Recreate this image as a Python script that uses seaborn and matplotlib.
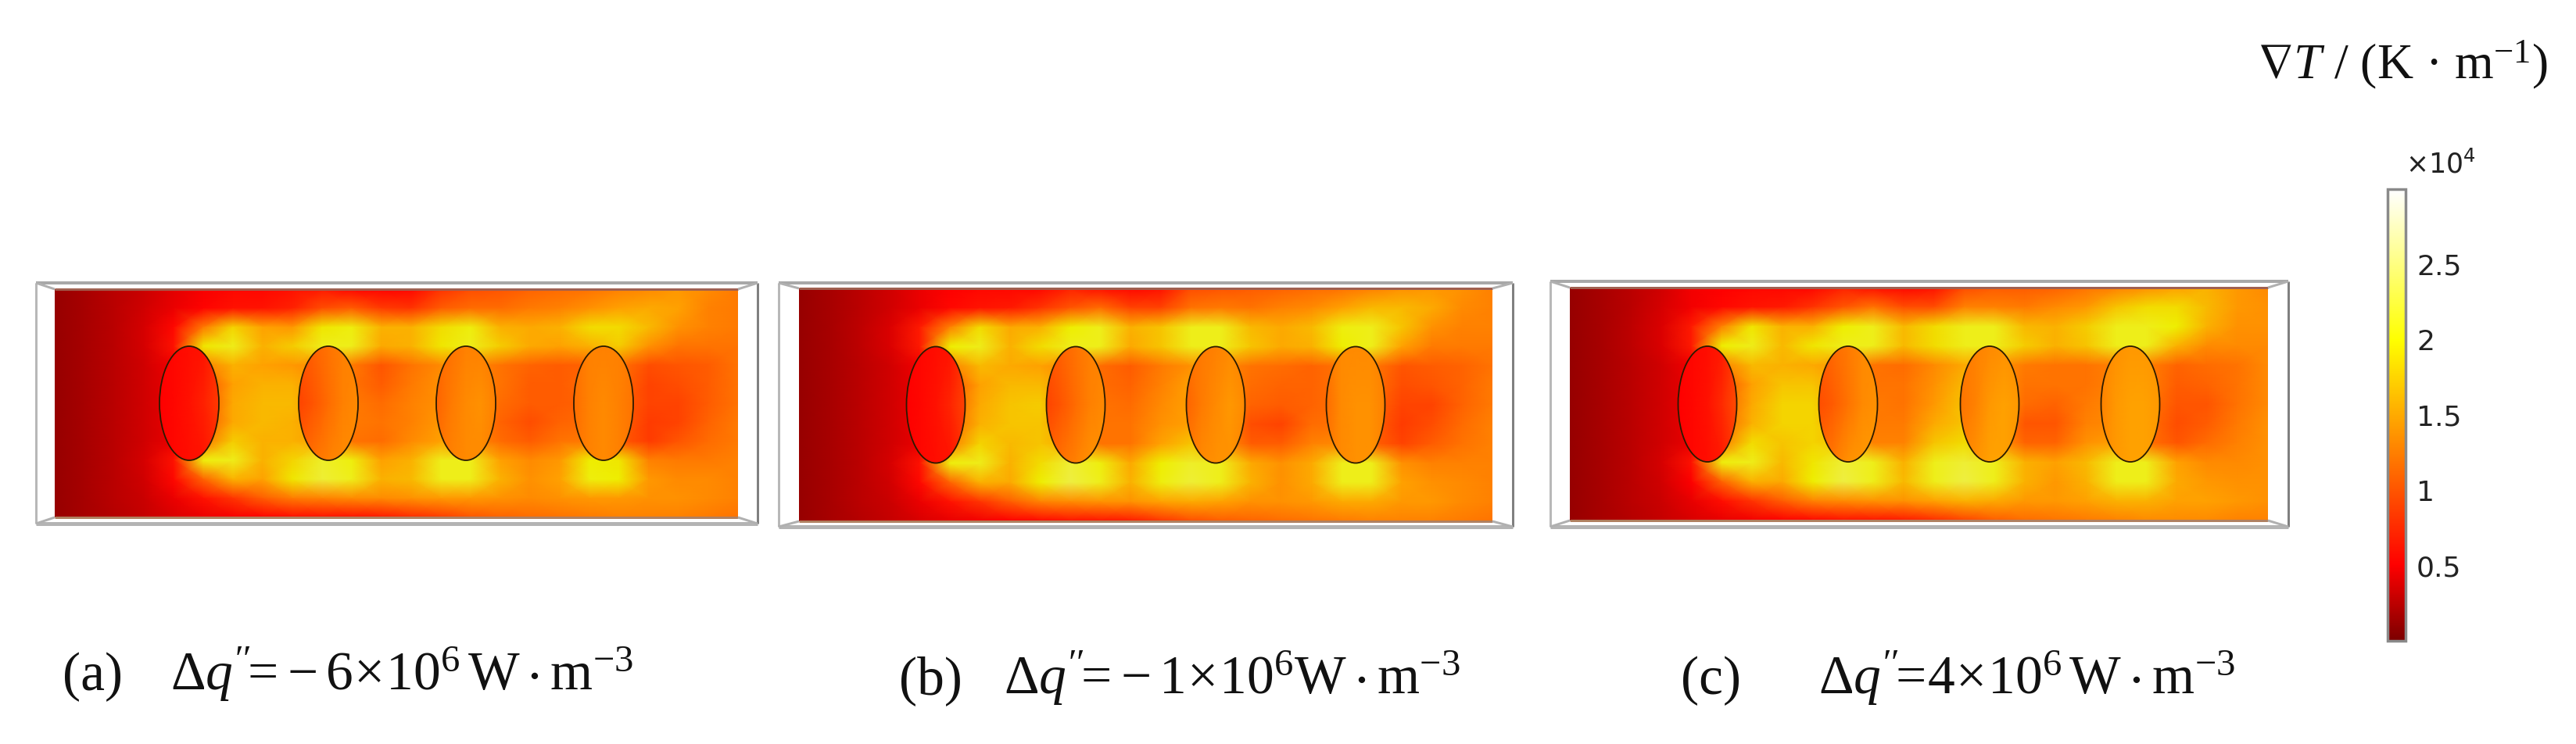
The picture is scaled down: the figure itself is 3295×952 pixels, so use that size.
import numpy as np
import pandas as pd
import matplotlib
matplotlib.use("Agg")
import matplotlib.pyplot as plt
import seaborn as sns
from matplotlib.colors import LinearSegmentedColormap
from matplotlib.cm import ScalarMappable
from matplotlib.colors import Normalize
from matplotlib.lines import Line2D
from matplotlib.patches import Ellipse

# ---------- values (x 10^4 K/m) ----------
field_a = [
 [.05,.12,.20,.28,.38,.48,.55,.55,.60,.65,.55,.52,.55,.80,.95,1.0,1.1,1.15,1.2,1.3,1.35,1.45,1.35,1.25],
 [.05,.12,.20,.30,.42,.52,.60,.62,.70,.95,1.05,.85,.80,1.05,1.15,1.15,1.25,1.3,1.4,1.5,1.55,1.5,1.3,1.25],
 [.05,.12,.20,.32,.55,1.25,1.8,1.5,1.45,1.9,2.0,1.6,1.6,1.85,2.0,1.6,1.55,1.6,1.85,1.85,1.65,1.4,1.3,1.25],
 [.05,.12,.20,.32,.60,1.9,2.05,1.6,1.75,2.05,2.05,1.55,1.6,1.9,2.05,1.75,1.55,1.5,1.6,1.75,1.4,1.2,1.2,1.2],
 [.05,.12,.20,.30,.45,1.3,1.6,1.5,1.45,1.35,1.25,1.0,1.2,1.35,1.35,1.2,1.1,1.05,1.1,1.2,.95,1.0,1.05,1.2],
 [.05,.12,.20,.30,.42,.95,1.5,1.6,1.6,1.35,1.2,1.05,1.25,1.4,1.35,1.2,1.05,1.05,1.15,1.15,.90,.95,1.05,1.2],
 [.05,.12,.20,.30,.42,.95,1.55,1.65,1.65,1.35,1.25,1.15,1.3,1.4,1.35,1.15,1.05,1.05,1.1,1.1,.90,.90,1.05,1.2],
 [.05,.12,.20,.30,.42,1.0,1.55,1.65,1.6,1.4,1.25,1.2,1.3,1.45,1.35,1.1,.95,1.1,1.15,1.1,.85,.90,1.1,1.25],
 [.05,.12,.20,.30,.42,1.2,1.75,1.6,1.6,1.5,1.2,1.15,1.35,1.5,1.35,1.15,1.05,1.2,1.25,1.05,.85,1.0,1.15,1.25],
 [.05,.12,.20,.32,.60,2.0,2.05,1.6,1.8,2.1,2.0,1.5,1.6,2.05,2.05,1.5,1.35,1.45,1.95,1.9,1.3,1.25,1.25,1.3],
 [.05,.12,.20,.30,.55,1.1,1.6,1.5,1.9,2.15,2.05,1.6,1.65,2.05,2.05,1.6,1.4,1.5,2.0,1.95,1.45,1.35,1.35,1.3],
 [.05,.12,.20,.28,.42,.60,.80,1.05,1.25,1.3,1.35,1.35,1.4,1.45,1.45,1.4,1.35,1.4,1.45,1.45,1.4,1.4,1.35,1.3],
 [.05,.12,.18,.25,.35,.42,.48,.52,.58,.60,.60,.65,.75,.85,1.0,1.1,1.15,1.2,1.25,1.3,1.3,1.3,1.25,1.2],
]
field_b = [
 [.05,.12,.20,.30,.42,.50,.55,.55,.55,.70,.60,.55,.60,.95,1.0,1.05,1.1,1.15,1.2,1.3,1.4,1.45,1.4,1.3],
 [.05,.12,.20,.30,.42,.55,.62,.65,.80,1.0,1.15,.90,.90,1.2,1.25,1.2,1.3,1.35,1.5,1.65,1.65,1.55,1.35,1.3],
 [.05,.12,.22,.35,.65,1.3,1.85,1.55,1.6,1.95,2.05,1.6,1.7,2.05,2.05,1.65,1.55,1.65,2.0,2.05,1.7,1.4,1.3,1.3],
 [.05,.12,.22,.35,.65,1.95,2.05,1.6,1.85,2.05,2.05,1.55,1.7,2.05,2.05,1.7,1.55,1.6,1.95,2.05,1.5,1.25,1.25,1.25],
 [.05,.12,.20,.30,.45,1.3,1.65,1.55,1.5,1.35,1.15,1.05,1.25,1.4,1.35,1.2,1.15,1.1,1.2,1.25,1.0,1.05,1.1,1.2],
 [.05,.12,.20,.30,.42,.95,1.5,1.65,1.65,1.35,1.15,1.1,1.3,1.5,1.35,1.15,1.1,1.1,1.2,1.2,.95,1.0,1.1,1.25],
 [.05,.12,.20,.30,.42,1.05,1.55,1.7,1.75,1.4,1.2,1.15,1.35,1.5,1.4,1.1,1.05,1.1,1.2,1.15,.90,.90,1.1,1.25],
 [.05,.12,.20,.30,.42,1.1,1.6,1.7,1.7,1.4,1.2,1.2,1.4,1.5,1.35,.95,.90,1.15,1.2,1.1,.85,.95,1.15,1.3],
 [.05,.12,.20,.30,.42,1.25,1.8,1.65,1.7,1.55,1.2,1.2,1.5,1.7,1.45,1.05,1.05,1.3,1.35,1.1,.90,1.05,1.2,1.3],
 [.05,.12,.20,.32,.60,2.0,2.05,1.6,1.85,2.15,2.0,1.55,1.95,2.1,2.05,1.55,1.4,1.55,2.05,2.05,1.4,1.3,1.3,1.3],
 [.05,.12,.20,.30,.55,1.1,1.6,1.55,1.95,2.2,2.05,1.6,2.0,2.15,2.05,1.6,1.4,1.55,2.05,2.05,1.5,1.4,1.35,1.3],
 [.05,.12,.20,.28,.42,.60,.80,1.05,1.3,1.35,1.4,1.4,1.5,1.55,1.5,1.4,1.4,1.45,1.55,1.55,1.45,1.45,1.35,1.3],
 [.05,.12,.18,.25,.33,.40,.45,.50,.55,.60,.62,.65,.80,.95,1.05,1.1,1.15,1.2,1.25,1.3,1.3,1.3,1.25,1.2],
]
field_c = [
 [.05,.12,.20,.30,.45,.50,.55,.55,.55,.70,.60,.55,.60,.95,1.05,1.05,1.1,1.2,1.3,1.4,1.5,1.6,1.45,1.35],
 [.05,.12,.20,.32,.45,.55,.62,.65,.80,1.0,1.2,.95,.95,1.3,1.3,1.25,1.35,1.45,1.7,1.85,1.85,1.65,1.45,1.4],
 [.05,.12,.22,.35,.65,1.3,1.9,1.6,1.6,1.95,2.05,1.65,1.85,2.05,2.05,1.65,1.6,1.75,2.05,2.05,1.95,1.6,1.4,1.4],
 [.05,.12,.22,.35,.65,1.95,2.05,1.65,1.9,2.05,2.05,1.65,1.85,2.05,2.05,1.75,1.6,1.7,2.05,2.05,1.6,1.35,1.35,1.35],
 [.05,.12,.20,.30,.45,1.3,1.65,1.6,1.55,1.45,1.2,1.15,1.35,1.55,1.45,1.25,1.2,1.2,1.3,1.3,1.1,1.15,1.2,1.35],
 [.05,.12,.20,.30,.42,.95,1.5,1.7,1.7,1.45,1.2,1.2,1.4,1.65,1.45,1.2,1.2,1.2,1.3,1.3,1.05,1.1,1.2,1.35],
 [.05,.12,.20,.30,.42,1.05,1.55,1.8,1.8,1.5,1.25,1.2,1.45,1.7,1.5,1.15,1.1,1.25,1.35,1.25,1.0,1.0,1.2,1.35],
 [.05,.12,.20,.30,.42,1.1,1.6,1.8,1.8,1.5,1.25,1.25,1.55,1.7,1.45,1.0,1.0,1.3,1.35,1.2,.95,1.05,1.25,1.4],
 [.05,.12,.20,.30,.42,1.25,1.85,1.7,1.8,1.7,1.3,1.3,1.7,1.85,1.5,1.1,1.1,1.4,1.5,1.2,1.0,1.15,1.3,1.4],
 [.05,.12,.20,.32,.60,2.0,2.05,1.65,1.9,2.15,2.05,1.6,2.05,2.15,2.05,1.6,1.5,1.65,2.05,2.05,1.5,1.35,1.35,1.4],
 [.05,.12,.20,.30,.50,1.1,1.6,1.55,1.95,2.2,2.05,1.65,2.05,2.2,2.05,1.6,1.45,1.6,2.05,2.05,1.55,1.45,1.4,1.4],
 [.05,.12,.20,.28,.40,.58,.80,1.05,1.3,1.35,1.4,1.4,1.5,1.6,1.55,1.45,1.45,1.5,1.6,1.6,1.5,1.5,1.45,1.4],
 [.05,.12,.18,.25,.33,.40,.45,.50,.55,.60,.62,.65,.75,.90,1.05,1.15,1.2,1.25,1.3,1.35,1.35,1.35,1.3,1.3],
]
# interiors of the four holes of each panel: top, middle, bottom row, left to right
holes_a = [
 [[.50,.55,.58,.62,.80],[.50,.55,.60,.70,.85],[.50,.55,.58,.62,.75]],
 [[1.0,1.1,1.2,1.3,1.3],[.90,1.0,1.15,1.3,1.35],[1.1,1.2,1.3,1.35,1.35]],
 [[1.15,1.2,1.3,1.3,1.25],[1.1,1.25,1.35,1.4,1.3],[1.2,1.3,1.35,1.35,1.25]],
 [[1.2,1.3,1.3,1.3,1.25],[1.15,1.3,1.35,1.3,1.2],[1.2,1.3,1.35,1.3,1.2]],
]
holes_b = [
 [[.50,.55,.58,.62,.85],[.50,.55,.60,.72,.90],[.50,.55,.58,.62,.80]],
 [[1.0,1.1,1.2,1.3,1.3],[.90,1.0,1.15,1.3,1.35],[1.1,1.2,1.3,1.4,1.4]],
 [[1.2,1.25,1.3,1.35,1.3],[1.1,1.25,1.35,1.45,1.35],[1.25,1.35,1.4,1.4,1.3]],
 [[1.25,1.35,1.35,1.35,1.3],[1.15,1.35,1.4,1.4,1.3],[1.25,1.35,1.4,1.4,1.3]],
]
holes_c = [
 [[.50,.55,.58,.65,.90],[.50,.55,.60,.75,.95],[.50,.55,.58,.65,.85]],
 [[1.05,1.15,1.25,1.35,1.35],[.95,1.05,1.2,1.35,1.4],[1.15,1.25,1.4,1.45,1.45]],
 [[1.25,1.3,1.35,1.4,1.35],[1.2,1.3,1.45,1.5,1.45],[1.3,1.4,1.5,1.5,1.4]],
 [[1.35,1.4,1.45,1.45,1.4],[1.3,1.45,1.5,1.5,1.45],[1.35,1.45,1.5,1.5,1.45]],
]
panel_letters = ["(a)", "(b)", "(c)"]
panel_formulas = [
 r"$\mathrm{\Delta}\mathit{q}^{\prime\prime}\!\!=\!-6\!\times\!10^{6}\,\mathrm{W}\cdot\mathrm{m}^{-3}$",
 r"$\mathrm{\Delta}\mathit{q}^{\prime\prime}\!\!=\!-1\!\times\!10^{6}\mathrm{W}\cdot\mathrm{m}^{-3}$",
 r"$\mathrm{\Delta}\mathit{q}^{\prime\prime}\!\!=\!4\!\times\!10^{6}\,\mathrm{W}\cdot\mathrm{m}^{-3}$",
]
bar_ticks = [0.5, 1, 1.5, 2, 2.5]
bar_labels = ["0.5", "1", "1.5", "2", "2.5"]
bar_range = (0, 3)

# ---------- layout, in pixels of the 3295x952 figure ----------
W, H = 3295, 952
OUTER = [(46, 362, 969, 670), (996, 362, 1935, 674), (1983, 360, 2927, 674)]
INNER = [(70, 370, 944, 662), (1022, 369, 1909, 667), (2008, 368, 2901, 666)]
HOLE_X = [(242, 420, 596, 772), (1197, 1376, 1555, 1734), (2184, 2364, 2545, 2725)]
HOLE_Y = [516, 518, 517]
HOLE_HALF = [(38, 73), (37.5, 74.5), (37.5, 74)]
LETTER_POS = [(80, 883), (1150, 888), (2150, 888)]
FORMULA_POS = [(218, 883), (1284, 888), (2326, 888)]

sns.set_theme(style="white")
plt.rcParams["font.family"] = ["Liberation Serif", "DejaVu Sans"]
plt.rcParams["mathtext.fontset"] = "custom"
plt.rcParams["mathtext.rm"] = "Liberation Serif"
plt.rcParams["mathtext.it"] = "Liberation Serif:italic"
plt.rcParams["mathtext.bf"] = "Liberation Serif:bold"
plt.rcParams["mathtext.default"] = "regular"

bar_cmap = LinearSegmentedColormap.from_list("heat_bar", [
    (0, "#7d0000"), (0.5/3, "#ff0000"), (2/3, "#ffff00"), (1, "#ffffff")])
field_cmap = LinearSegmentedColormap.from_list("heat_field", [
    (0, "#8c0000"), (0.5/3, "#ff0000"), (1/3, "#ff5500"), (1.5/3, "#ffa000"),
    (1.95/3, "#eeee00"), (2.5/3, "#eeee90"), (1, "#ffffff")])

fig = plt.figure(figsize=(W/100, H/100), dpi=100, facecolor="white")


def px_axes(x0, y0, x1, y1):
    return fig.add_axes([x0/W, 1-y1/H, (x1-x0)/W, (y1-y0)/H])


def smooth_heat(values, ax):
    table = pd.DataFrame(values)
    sns.heatmap(table, ax=ax, cmap=field_cmap, vmin=bar_range[0], vmax=bar_range[1],
                cbar=False, xticklabels=False, yticklabels=False, shading="gouraud")
    ax.set_xlim(0, table.shape[1]-1)
    ax.set_ylim(table.shape[0]-1, 0)
    ax.set_xlabel("")
    ax.set_ylabel("")
    return ax.collections[-1]


def frame_line(xs, ys, color, lw):
    fig.add_artist(Line2D([x/W for x in xs], [1-y/H for y in ys], color=color, lw=lw*0.72,
                          solid_capstyle="butt"))


fields = [field_a, field_b, field_c]
holes = [holes_a, holes_b, holes_c]
for i in range(3):
    ox0, oy0, ox1, oy1 = OUTER[i]
    ix0, iy0, ix1, iy1 = INNER[i]
    ax = px_axes(ix0, iy0, ix1, iy1)
    smooth_heat(fields[i], ax)
    ax.axis("off")
    # 3-D box around the slice
    frame_line([ox0, ox1], [oy0, oy0], "#a8a8a8", 4)
    frame_line([ox0, ox1], [oy1, oy1], "#b4b4b4", 5)
    frame_line([ox0, ox0], [oy0, oy1], "#b8b8b8", 3)
    frame_line([ox1, ox1], [oy0, oy1], "#808080", 3)
    frame_line([ix0, ix1], [iy0, iy0], "#a06050", 3)
    frame_line([ix0, ix1], [iy1, iy1], "#b08060", 3)
    for cx, cy, dx, dy in [(ox0, oy0, ix0, iy0), (ox1, oy0, ix1, iy0),
                           (ox0, oy1, ix0, iy1), (ox1, oy1, ix1, iy1)]:
        frame_line([cx, dx], [cy, dy], "#b0b0b0", 3)
    # holes
    hw, hh = HOLE_HALF[i]
    for k, hx in enumerate(HOLE_X[i]):
        hax = px_axes(hx-hw, HOLE_Y[i]-hh, hx+hw, HOLE_Y[i]+hh)
        mesh = smooth_heat(holes[i][k], hax)
        hax.axis("off")
        edge = Ellipse((0.5, 0.5), 1, 1, transform=hax.transAxes, fill=False,
                       ec="#2a1a00", lw=1.3, clip_on=False, zorder=5)
        hax.add_patch(edge)
        mesh.set_clip_path(edge)
    fig.text(LETTER_POS[i][0]/W, 1-LETTER_POS[i][1]/H, panel_letters[i],
             fontsize=50, color="#111111", va="baseline", ha="left")
    fig.text(FORMULA_POS[i][0]/W, 1-FORMULA_POS[i][1]/H, panel_formulas[i],
             fontsize=50, color="#111111", va="baseline", ha="left")

# colour bar
cax = px_axes(3054, 242, 3077, 820)
sm = ScalarMappable(norm=Normalize(*bar_range), cmap=bar_cmap)
cb = fig.colorbar(sm, cax=cax, ticks=bar_ticks)
cb.ax.set_yticklabels(bar_labels, family="DejaVu Sans", fontsize=26, color="#222222")
cb.ax.tick_params(axis="y", direction="in", left=True, right=True, length=5, width=1.2,
                  color="#444444", pad=10)
cb.outline.set_edgecolor("#8a8a8a")
cb.outline.set_linewidth(2.5)
fig.text(3077/W, 1-222/H, r"×10$^{4}$", family="DejaVu Sans", fontsize=25, color="#222222",
         va="baseline", ha="left", math_fontfamily="dejavusans")
fig.text(2887/W, 1-100/H, r"$\nabla\mathit{T}$ / (K · m$^{-1}$)", fontsize=46, color="#111111",
         va="baseline", ha="left")

fig.savefig("out.png", dpi=100, facecolor="white")
